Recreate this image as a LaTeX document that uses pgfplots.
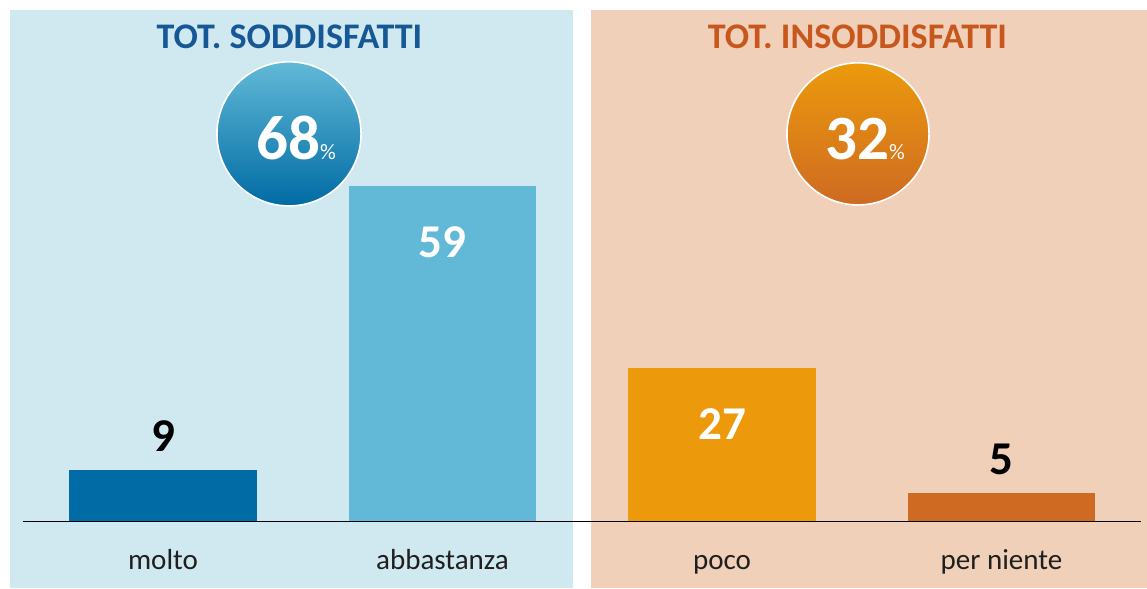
\documentclass[border=0pt]{standalone}
\usepackage{pgfplots}
\pgfplotsset{compat=1.18}
\usepackage{fontspec}
\setmainfont{Carlito}
\definecolor{panelblue}{RGB}{208,232,240}
\definecolor{panelpeach}{RGB}{240,208,185}
\definecolor{cmolto}{RGB}{0,107,164}
\definecolor{cabba}{RGB}{98,185,215}
\definecolor{cpoco}{RGB}{236,154,12}
\definecolor{cniente}{RGB}{206,106,34}
\definecolor{tblue}{RGB}{22,88,150}
\definecolor{torange}{RGB}{200,87,30}
\begin{document}
\begin{tikzpicture}
\begin{axis}[
  set layers,
  scale only axis,
  width=558.5pt, height=255.5pt,
  xmin=-0.5, xmax=3.5, ymin=0, ymax=90,
  clip=false,
  axis x line*=bottom, axis y line=none,
  x axis line style={black, line width=0.6pt},
  xtick={0,1,2,3},
  xticklabels={molto,abbastanza,poco,per niente},
  xtick style={draw=none},
  xticklabel style={anchor=base, yshift=-24pt, text=black!88,
    font=\fontsize{14.5}{16}\selectfont},
  /pgf/number format/assume math mode=true,
  every node near coord/.append style={anchor=center,
    font=\fontsize{23.5}{26}\selectfont\bfseries},
]
\begin{pgfonlayer}{axis background}
  \fill[panelblue] (axis cs:-0.5474,-11.8) rectangle (axis cs:1.4669,90);
  \fill[panelpeach] (axis cs:1.5313,-11.8) rectangle (axis cs:3.5206,90);
\end{pgfonlayer}
\addplot[ybar, bar width=0.67, bar shift=0pt, fill=cmolto, draw=none,
  nodes near coords, every node near coord/.append style={yshift=17pt, text=black}]
  coordinates {(0,9)};
\addplot[ybar, bar width=0.67, bar shift=0pt, fill=cabba, draw=none,
  nodes near coords, every node near coord/.append style={yshift=-28pt, text=white}]
  coordinates {(1,59)};
\addplot[ybar, bar width=0.67, bar shift=0pt, fill=cpoco, draw=none,
  nodes near coords, every node near coord/.append style={yshift=-28pt, text=white}]
  coordinates {(2,27)};
\addplot[ybar, bar width=0.67, bar shift=0pt, fill=cniente, draw=none,
  nodes near coords, every node near coord/.append style={yshift=17pt, text=black}]
  coordinates {(3,5)};
% titles
\node[anchor=base, text=tblue, font=\fontsize{18}{20}\selectfont\bfseries]
  at (axis cs:0.4526,83.3) {TOT. SODDISFATTI};
\node[anchor=base, text=torange, font=\fontsize{18}{20}\selectfont\bfseries]
  at (axis cs:2.4848,83.3) {TOT. INSODDISFATTI};
% circles
\node[circle, minimum size=72pt, inner sep=0pt, draw=white, line width=0.8pt,
  top color=cabba, bottom color=cmolto] (c1) at (axis cs:0.4508,68.2) {};
\node[circle, minimum size=71pt, inner sep=0pt, draw=white, line width=0.8pt,
  top color=cpoco, bottom color=cniente] (c2) at (axis cs:2.4866,68.2) {};
\node[anchor=base, text=white, inner sep=0pt] at ([xshift=3.5pt,yshift=-13pt]c1.center)
  {\fontsize{31.5}{32}\selectfont\bfseries 68{\fontsize{11}{12}\selectfont\mdseries\%}};
\node[anchor=base, text=white, inner sep=0pt] at ([xshift=3.5pt,yshift=-13pt]c2.center)
  {\fontsize{31.5}{32}\selectfont\bfseries 32{\fontsize{11}{12}\selectfont\mdseries\%}};
\coordinate (bl) at (axis cs:-0.5832,-11.8);
\coordinate (tr) at (axis cs:3.5206,91.76);
\end{axis}
\pgfresetboundingbox
\path (bl) rectangle (tr);
\end{tikzpicture}
\end{document}
